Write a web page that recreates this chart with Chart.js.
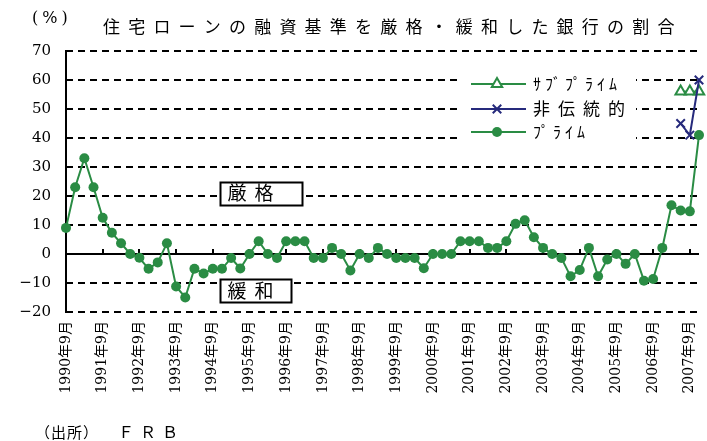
<!DOCTYPE html>
<html>
<head>
<meta charset="utf-8">
<script src="https://cdn.jsdelivr.net/npm/chart.js@4.4.0/dist/chart.umd.min.js"></script>
<style>
  html, body { margin: 0; padding: 0; background: #fff; overflow: hidden; }
  #wrap { width: 707px; height: 441px; }
</style>
</head>
<body>
<div id="wrap"><canvas id="c"></canvas></div>
<script>
// quarterly survey dates, 1990 Sep .. 2007 Dec
const categories = [
  '1990年9月', '1990年12月',
  '1991年3月', '1991年6月', '1991年9月', '1991年12月',
  '1992年3月', '1992年6月', '1992年9月', '1992年12月',
  '1993年3月', '1993年6月', '1993年9月', '1993年12月',
  '1994年3月', '1994年6月', '1994年9月', '1994年12月',
  '1995年3月', '1995年6月', '1995年9月', '1995年12月',
  '1996年3月', '1996年6月', '1996年9月', '1996年12月',
  '1997年3月', '1997年6月', '1997年9月', '1997年12月',
  '1998年3月', '1998年6月', '1998年9月', '1998年12月',
  '1999年3月', '1999年6月', '1999年9月', '1999年12月',
  '2000年3月', '2000年6月', '2000年9月', '2000年12月',
  '2001年3月', '2001年6月', '2001年9月', '2001年12月',
  '2002年3月', '2002年6月', '2002年9月', '2002年12月',
  '2003年3月', '2003年6月', '2003年9月', '2003年12月',
  '2004年3月', '2004年6月', '2004年9月', '2004年12月',
  '2005年3月', '2005年6月', '2005年9月', '2005年12月',
  '2006年3月', '2006年6月', '2006年9月', '2006年12月',
  '2007年3月', '2007年6月', '2007年9月', '2007年12月'
];

const prime = [
  9, 23,
  33, 23, 12.5, 7.3,
  3.7, 0, -1.3, -5.1,
  -2.9, 3.7, -11.2, -15,
  -5.1, -6.7, -5.1, -5.1,
  -1.4, -5, 0, 4.4,
  0, -1.4, 4.4, 4.4,
  4.4, -1.4, -1.4, 2.1,
  0, -5.7, 0, -1.4,
  2.1, 0, -1.4, -1.4,
  -1.4, -4.9, 0, 0,
  0, 4.4, 4.4, 4.4,
  2.1, 2.1, 4.4, 10.4,
  11.6, 5.8, 2.1, 0,
  -1.4, -7.7, -5.5, 2.1,
  -7.7, -1.9, 0, -3.4,
  0, -9.2, -8.6, 2.1,
  16.8, 15, 14.7, 41
];

const nil67 = Array(67).fill(null);
const subprime = nil67.concat([56, 56, 56]);
const nonTraditional = nil67.concat([45, 41, 60]);

// y tick / grid values
const yTickValues = [70, 60, 50, 40, 30, 20, 10, 0, -10, -20];

const seriesNames = ['ｻﾌﾞﾌﾟﾗｲﾑ', '非伝統的', 'ﾌﾟﾗｲﾑ'];
const titleText = '住宅ローンの融資基準を厳格・緩和した銀行の割合';

const GREEN = '#2a8c44';
const NAVY = '#262a7c';
const JP = "'Noto Sans CJK JP', sans-serif";

function spacedText(ctx, text, x, y, font, spacing, align) {
  ctx.save();
  ctx.font = font;
  ctx.letterSpacing = spacing + 'px';
  ctx.fillStyle = '#000';
  ctx.textBaseline = 'middle';
  ctx.textAlign = align || 'left';
  ctx.fillText(text, x, y);
  ctx.restore();
}

// grid, left axis and zero line, positioned from the scales
function drawAxes(chart) {
  const {ctx, chartArea, scales: {x, y}} = chart;
  const left = Math.round(chartArea.left);
  const right = Math.ceil(chartArea.right);
  ctx.save();
  ctx.setLineDash([]);
  ctx.lineCap = 'butt';
  ctx.lineWidth = 2;
  ctx.strokeStyle = '#000';
  yTickValues.forEach(v => {
    if (v === 0) return;
    const py = Math.round(y.getPixelForValue(v));
    ctx.beginPath();
    for (let dx = left; dx < right; dx += 12) {
      ctx.moveTo(dx, py);
      ctx.lineTo(Math.min(dx + 7, right), py);
    }
    ctx.stroke();
  });
  const top = Math.round(y.getPixelForValue(70));
  const bottom = Math.round(y.getPixelForValue(-20));
  const y0 = Math.round(y.getPixelForValue(0));
  ctx.beginPath();
  ctx.moveTo(left, top - 1);
  ctx.lineTo(left, bottom + 1);
  ctx.stroke();
  ctx.beginPath();
  ctx.moveTo(left, y0);
  ctx.lineTo(right, y0);
  categories.forEach((c, i) => {
    if (i > 0 && c.endsWith('年9月')) {
      const px = Math.round(x.getPixelForValue(i));
      ctx.moveTo(px, y0 - 5);
      ctx.lineTo(px, y0);
    }
  });
  ctx.stroke();
  ctx.restore();
}

const decor = {
  id: 'decor',
  beforeDatasetsDraw(chart) {
    drawAxes(chart);
  },
  afterDraw(chart) {
    const {ctx, scales: {x, y}} = chart;

    // title and unit
    spacedText(ctx, titleText, 103, 27, '17px ' + JP, 8.2);
    spacedText(ctx, '(%)', 32, 19, "16px 'DejaVu Serif'", 4);
    spacedText(ctx, '（出所）', 35, 432, '15px ' + JP, 1);
    spacedText(ctx, 'ＦＲＢ', 118, 432, '16px ' + JP, 6);

    // 厳格 / 緩和 boxes
    const boxes = [
      {text: '厳格', idx: 16.8, val: 21, w: 82},
      {text: '緩和', idx: 16.8, val: -12.7, w: 71}
    ];
    boxes.forEach(b => {
      const bx = Math.round(x.getPixelForValue(b.idx)) + 0.5;
      const cy = y.getPixelForValue(b.val);
      const by = Math.round(cy - 11.5) + 0.5;
      ctx.save();
      ctx.fillStyle = '#fff';
      ctx.fillRect(bx, by, b.w, 23);
      ctx.strokeStyle = '#000';
      ctx.lineWidth = 2;
      ctx.strokeRect(bx, by, b.w, 23);
      ctx.restore();
      spacedText(ctx, b.text, bx + 7, cy, '19px ' + JP, 8);
    });

    // legend
    ctx.save();
    ctx.fillStyle = '#fff';
    ctx.fillRect(460, 66, 176, 78);
    ctx.restore();
    const rows = [
      {name: seriesNames[0], color: GREEN, style: 'triangle', fill: '#fff', r: 6, bw: 2, font: '16px ' + JP, sp: 4},
      {name: seriesNames[1], color: NAVY, style: 'crossRot', fill: NAVY, r: 6, bw: 2, font: '17px ' + JP, sp: 8},
      {name: seriesNames[2], color: GREEN, style: 'circle', fill: GREEN, r: 5, bw: 0, font: '16px ' + JP, sp: 4}
    ];
    const rowY = [84, 109, 132];
    rows.forEach((r, k) => {
      const ly = rowY[k];
      ctx.save();
      ctx.strokeStyle = r.color;
      ctx.lineWidth = 2;
      ctx.beginPath();
      ctx.moveTo(471, ly);
      ctx.lineTo(526, ly);
      ctx.stroke();
      ctx.fillStyle = r.fill;
      ctx.strokeStyle = r.color;
      ctx.lineWidth = r.bw;
      Chart.helpers.drawPoint(ctx, {pointStyle: r.style, radius: r.r, borderWidth: r.bw, rotation: 0}, 497, ly);
      ctx.restore();
      spacedText(ctx, r.name, 533, ly, r.font, r.sp);
    });
  }
};

new Chart(document.getElementById('c'), {
  type: 'line',
  data: {
    labels: categories,
    datasets: [
      {
        label: seriesNames[2],
        data: prime,
        borderColor: GREEN,
        backgroundColor: GREEN,
        borderWidth: 2,
        pointRadius: 5,
        pointBorderWidth: 0,
        pointBackgroundColor: GREEN,
        tension: 0
      },
      {
        label: seriesNames[1],
        data: nonTraditional,
        borderColor: NAVY,
        borderWidth: 2,
        pointStyle: 'crossRot',
        pointRadius: 6,
        pointBorderWidth: 2,
        pointBorderColor: NAVY,
        tension: 0
      },
      {
        label: seriesNames[0],
        data: subprime,
        borderColor: GREEN,
        borderWidth: 2,
        pointStyle: 'triangle',
        pointRadius: 6,
        pointBorderWidth: 2,
        pointBorderColor: GREEN,
        pointBackgroundColor: '#fff',
        tension: 0
      }
    ]
  },
  options: {
    responsive: true,
    maintainAspectRatio: false,
    animation: false,
    devicePixelRatio: 1,
    layout: {padding: {top: 51, right: 0, bottom: 0, left: 0}},
    plugins: {
      legend: {display: false},
      title: {display: false},
      tooltip: {enabled: false}
    },
    scales: {
      x: {
        type: 'category',
        offset: false,
        grid: {display: false, drawTicks: false},
        border: {display: false},
        ticks: {
          autoSkip: false,
          minRotation: 90,
          maxRotation: 90,
          padding: 9,
          color: '#000',
          font: {family: "'DejaVu Serif', 'Noto Sans CJK JP'", size: 14},
          callback: (v, i) => categories[i].endsWith('年9月') ? categories[i] : ''
        },
        afterFit(s) {
          s.height = 129;
          s.paddingLeft = 0;
          s.paddingRight = 0;
        }
      },
      y: {
        min: -20,
        max: 70,
        afterBuildTicks(s) {
          s.ticks = yTickValues.map(v => ({value: v}));
        },
        ticks: {
          color: '#000',
          padding: 15,
          font: {family: "'DejaVu Serif'", size: 15},
          callback: v => v < 0 ? '\u2212' + Math.abs(v) : String(v)
        },
        grid: {display: false, drawTicks: false},
        border: {display: false},
        afterFit(s) {
          s.width = 66;
          s.paddingTop = 0;
          s.paddingBottom = 0;
        }
      }
    }
  },
  plugins: [decor]
});
</script>
</body>
</html>
